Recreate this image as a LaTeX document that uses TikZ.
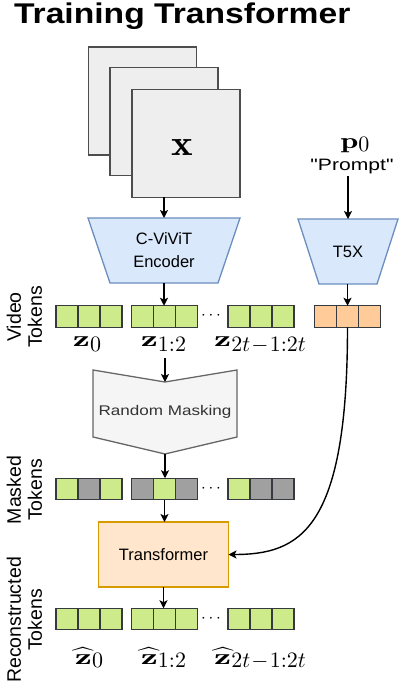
\RequirePackage{fix-cm}
\documentclass[tikz,border=0pt]{standalone}
\usepackage{fontspec}
\setsansfont{Liberation Sans}[Ligatures=TeXOff]
\usepackage{graphicx}
\usetikzlibrary{arrows.meta,backgrounds}

\definecolor{frameFill}{HTML}{EEEEEE}
\definecolor{frameLine}{HTML}{4D4D4D}
\definecolor{encFill}{HTML}{DAE8FC}
\definecolor{encLine}{HTML}{6C8EBF}
\definecolor{tokGreen}{HTML}{CDEB8B}
\definecolor{tokOrange}{HTML}{FFCC99}
\definecolor{tokGray}{HTML}{A0A0A0}
\definecolor{tokLine}{HTML}{36393D}
\definecolor{maskFill}{HTML}{F5F5F5}
\definecolor{maskLine}{HTML}{666666}
\definecolor{maskText}{HTML}{333333}
\definecolor{trFill}{HTML}{FFE6CC}
\definecolor{trLine}{HTML}{D79B00}

% math set at 10pt and enlarged: wide bold vectors, full-size lowered subscripts
\newcommand\bfz{\scalebox{3.85}[2.2]{$\mathbf{z}$}}
\newcommand\hatz{\scalebox{3.85}[2.2]{$\widehat{\mathbf{z}}$}}
\newcommand\zsub[2]{\raisebox{#1}{\scalebox{2.2}{$#2$}}}

% one group of three token cells
\newcommand\tokgroup[6]{%
  \node[grp] (#1) at (#2,#3) {};
  \node[cell, fill=#4] (#1a) at ([xshift=-22pt]#1.center) {};
  \node[cell, fill=#5] (#1b) at (#1.center) {};
  \node[cell, fill=#6] (#1c) at ([xshift=22pt]#1.center) {};
}

\begin{document}
\begin{tikzpicture}[x=1pt, y=-1pt,
  every node/.style={inner sep=0pt, outer sep=0pt},
  frame/.style={draw=frameLine, fill=frameFill, line width=1.3pt,
    minimum width=108pt, minimum height=108pt},
  cell/.style={draw=tokLine, line width=1.3pt,
    minimum width=22pt, minimum height=21.5pt},
  grp/.style={minimum width=66pt, minimum height=21.5pt},
  link/.style={draw=black, line width=1.4pt,
    -{Stealth[length=8pt, width=8pt, inset=2pt]}},
  boxtext/.style={font=\sffamily\fontsize{16.5}{23}\selectfont, align=center},
  side/.style={rotate=90, font=\sffamily\fontsize{19.5}{21}\selectfont, align=center},
  zlab/.style={anchor=base},
  dots/.style={font=\fontsize{17}{17}\selectfont},
]
\useasboundingbox (0,0) rectangle (399,692);
\begin{scope}[on background layer]
  \fill[white] (0,0) rectangle (399,692);
\end{scope}

% title
\node[anchor=base west, font=\sffamily\bfseries\fontsize{28.5}{28.5}\selectfont]
  (title) at (14,24) {\scalebox{1.18}[1]{Training Transformer}};

% stacked video frames
\node[frame] (f1) at (142.5,101) {};
\node[frame] (f2) at (164,121.5) {};
\node[frame] (f3) at (186,143.5) {};
\node (xin) at (182,148) {\scalebox{4.1}[3.6]{$\mathbf{x}$}};

% text prompt
\node[anchor=base] (p0) at (355,149)
  {\scalebox{3.2}[2.2]{$\mathbf{p}$}\zsub{-3pt}{0}};
\node[font=\sffamily\fontsize{16.5}{16.5}\selectfont, anchor=base, inner sep=2pt]
  (prompt) at (352,171) {\scalebox{1.28}[1]{"Prompt"}};

% encoders
\node[boxtext, minimum width=152pt, minimum height=65pt] (enc) at (164,250.5)
  {C-ViViT\\Encoder};
\node[boxtext, minimum width=100pt, minimum height=65pt] (t5x) at (348,251.5)
  {T5X};
\begin{scope}[on background layer]
  \draw[draw=encLine, fill=encFill, line width=1.3pt]
    (enc.north west) -- (enc.north east) -- ([xshift=-22pt]enc.south east)
    -- ([xshift=22pt]enc.south west) -- cycle;
  \draw[draw=encLine, fill=encFill, line width=1.3pt]
    (t5x.north west) -- (t5x.north east) -- ([xshift=-21pt]t5x.south east)
    -- ([xshift=21pt]t5x.south west) -- cycle;
\end{scope}

% video tokens
\tokgroup{v1}{89}{316.5}{tokGreen}{tokGreen}{tokGreen}
\tokgroup{v2}{164.5}{316.5}{tokGreen}{tokGreen}{tokGreen}
\tokgroup{v3}{261}{316.5}{tokGreen}{tokGreen}{tokGreen}
\tokgroup{pt}{347.5}{316.5}{tokOrange}{tokOrange}{tokOrange}
\node[dots] (vd) at (211,316) {$\cdots$};

\node[zlab] (z0) at (87,346) {\bfz\zsub{-5.5pt}{0}};
\node[zlab] (z12) at (163.5,346) {\bfz\zsub{-5.5pt}{1{:}2}};
\node[zlab] (z2t) at (260,346) {\bfz\zsub{-5.5pt}{2t\!-\!1{:}2t}};

% random masking
\node[font=\sffamily\fontsize{14}{14}\selectfont, text=maskText,
  minimum width=144pt, minimum height=84pt] (mask) at (165,412)
  {\scalebox{1.22}[1]{Random Masking}};
\begin{scope}[on background layer]
  \draw[draw=maskLine, fill=maskFill, line width=1.3pt]
    (mask.north west) -- ([yshift=-12pt]mask.north) -- (mask.north east)
    -- ([yshift=17pt]mask.south east) -- (mask.south)
    -- ([yshift=17pt]mask.south west) -- cycle;
\end{scope}

% masked tokens
\tokgroup{m1}{89}{489}{tokGreen}{tokGray}{tokGreen}
\tokgroup{m2}{164.5}{489}{tokGray}{tokGreen}{tokGray}
\tokgroup{m3}{261}{489}{tokGreen}{tokGray}{tokGray}
\node[dots] (md) at (211,488.5) {$\cdots$};

% transformer
\node[draw=trLine, fill=trFill, line width=1.3pt, minimum width=130pt,
  minimum height=65pt, boxtext] (tr) at (163.5,554.5) {Transformer};

% reconstructed tokens
\tokgroup{r1}{89}{619}{tokGreen}{tokGreen}{tokGreen}
\tokgroup{r2}{164.5}{619}{tokGreen}{tokGreen}{tokGreen}
\tokgroup{r3}{261}{619}{tokGreen}{tokGreen}{tokGreen}
\node[dots] (rd) at (211,618.5) {$\cdots$};

\node[zlab] (h0) at (89,664) {\hatz\zsub{-3pt}{0}};
\node[zlab] (h12) at (163.5,664) {\hatz\zsub{-3pt}{1{:}2}};
\node[zlab] (h2t) at (260,664) {\hatz\zsub{-3pt}{2t\!-\!1{:}2t}};

% row labels
\node[side] (lv) at (24.5,317) {Video\\Tokens};
\node[side] (lm) at (24.5,490) {Masked\\Tokens};
\node[side] (lr) at (24.5,620) {Reconstructed\\Tokens};

% connectors
\draw[link] (enc.north |- f3.south) -- (enc.north);
\draw[link] (prompt.south -| t5x.north) -- (t5x.north);
\draw[link] (enc.south) -- (enc.south |- v2.north);
\draw[link] (t5x.south -| pt.north) -- (pt.north);
\draw[link, shorten <=6pt] (z12.south -| mask.north) -- ([yshift=-12pt]mask.north);
\draw[link] (mask.south) -- (mask.south |- m2.north);
\draw[link] (m2.south) -- (m2.south |- tr.north);
\draw[link] (tr.south) -- (tr.south |- r2.north);
\draw[link] (pt.south) .. controls (347.5,530) and (300,554.5) .. (tr.east);
\end{tikzpicture}
\end{document}
